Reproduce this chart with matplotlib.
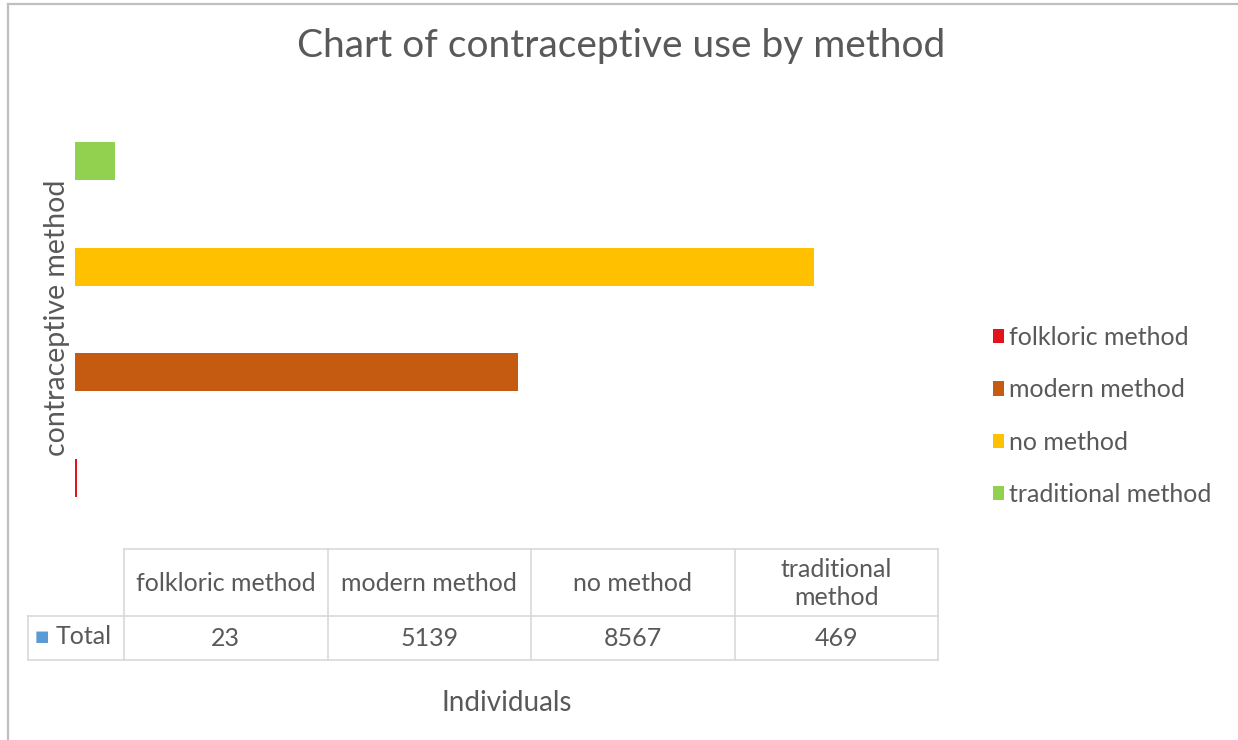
import matplotlib.pyplot as plt
from matplotlib.lines import Line2D
from matplotlib.patches import Patch

# data
methods = ["folkloric method", "modern method", "no method", "traditional method"]
header_labels = ["folkloric method", "modern method", "no method", "traditional\nmethod"]
totals = [23, 5139, 8567, 469]
colors = ["#E3121B", "#C55A11", "#FFC000", "#92D050"]

plt.rcParams['font.family'] = ['Lato', 'DejaVu Sans']
text_col = "#595959"
grid_col = "#D9D9D9"

W, H = 1238, 740
fig = plt.figure(figsize=(W / 100, H / 100), dpi=100)


def fx(x):
    return x / W


def fy(y):
    return 1 - y / H


# bar area
ax = fig.add_axes([fx(75), fy(531), fx(938) - fx(75), fy(108) - fy(531)])
ypos = list(range(len(methods)))
ax.barh(ypos, totals, height=0.36, color=colors)
ax.set_xlim(0, 10000)
ax.set_ylim(-0.5, len(methods) - 0.5)
ax.set_xticks([])
ax.set_yticks([])
for s in ax.spines.values():
    s.set_visible(False)

# titles
fig.text(fx(621), fy(46), "Chart of contraceptive use by method", ha='center', va='center',
         fontsize=28, color=text_col)
fig.text(fx(57), fy(318), "contraceptive method", rotation=90, ha='center', va='center',
         fontsize=20.5, color=text_col)
fig.text(fx(507), fy(703), "Individuals", ha='center', va='center', fontsize=20, color=text_col)

# data table under the chart
left, right = 124, 938
hdr_top, row_top, row_bot = 549, 616, 660
col_w = (right - left) / len(methods)


def hline(x0, x1, y):
    fig.add_artist(Line2D([fx(x0), fx(x1)], [fy(y), fy(y)], color=grid_col, lw=1.2))


def vline(x, y0, y1):
    fig.add_artist(Line2D([fx(x), fx(x)], [fy(y0), fy(y1)], color=grid_col, lw=1.2))


hline(left, right, hdr_top)
hline(28, right, row_top)
hline(28, right, row_bot)
vline(28, row_top, row_bot)
for i in range(len(methods) + 1):
    vline(left + i * col_w, hdr_top, row_bot)

for i, (lab, val) in enumerate(zip(header_labels, totals)):
    cx = left + (i + 0.5) * col_w
    fig.text(fx(cx), fy((hdr_top + row_top) / 2 + 1), lab, ha='center', va='center',
             fontsize=18, color=text_col, linespacing=1.25)
    fig.text(fx(cx), fy((row_top + row_bot) / 2), str(val), ha='center', va='center',
             fontsize=18, color=text_col)

fig.text(fx(35), fy(637), "■", ha='left', va='center', fontsize=11, color="#5B9BD5")
fig.text(fx(56), fy(637), "Total", ha='left', va='center', fontsize=18, color=text_col)

# legend
handles = [Patch(facecolor=c) for c in colors]
fig.legend(handles, methods, loc='center left', bbox_to_anchor=(fx(993), fy(416)),
           frameon=False, fontsize=18, labelcolor=text_col, handlelength=0.45,
           handleheight=0.5, handletextpad=0.2, labelspacing=1.17, borderpad=0,
           borderaxespad=0)

# outer frame (left and top edges only visible)
fig.add_artist(Line2D([fx(8), fx(8)], [0, fy(4)], color="#BFBFBF", lw=1.6))
fig.add_artist(Line2D([fx(8), 1], [fy(4), fy(4)], color="#BFBFBF", lw=1.6))

fig.savefig("out.png", dpi=100, facecolor='white')
